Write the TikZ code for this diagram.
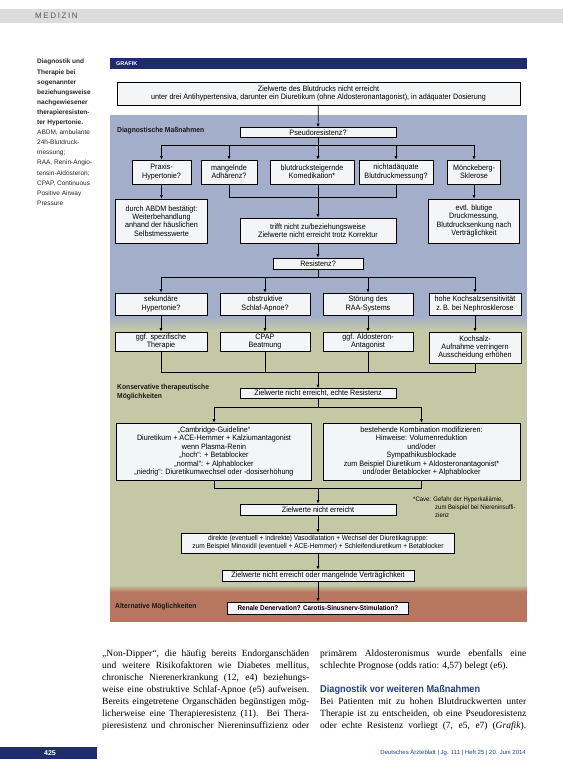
\documentclass[tikz,border=0pt]{standalone}
\usepackage{fontspec}
\setmainfont{Liberation Serif}
\setsansfont{Liberation Sans}
\newfontfamily\cond[FakeStretch=0.92]{Liberation Sans}
\usetikzlibrary{arrows.meta}
\definecolor{diagblue}{HTML}{A3AECB}
\definecolor{khakisec}{HTML}{C5C8A5}
\definecolor{brownsec}{HTML}{B7765F}
\definecolor{navybar}{HTML}{1E2C6B}
\definecolor{boxfill}{HTML}{F3F5F7}
\definecolor{headblue}{HTML}{23408F}
\definecolor{hdrgrey}{HTML}{DCDCDC}
\begin{document}
\begin{tikzpicture}[x=1pt,y=-1pt,
  fbox/.style={draw=black,line width=0.7pt,fill=boxfill,font=\cond\fontsize{7.8}{8.4}\selectfont,align=center,inner sep=0pt,anchor=center},
  conn/.style={line width=0.7pt},
  arr/.style={line width=0.7pt,-{Latex[length=3.5pt,width=3.2pt]}},
  seclabel/.style={font=\cond\bfseries\fontsize{7.3}{8.4}\selectfont,anchor=west,align=left,text=black!90,inner sep=0pt},
  bodytext/.style={anchor=north west,inner sep=0pt,font=\fontsize{9.5}{11.9}\selectfont}
]
\useasboundingbox (0,0) rectangle (563,771);
\fill[white] (0,0) rectangle (563,771);
% running header
\fill[hdrgrey] (0,9) rectangle (563,23);
\node[anchor=west,inner sep=0pt,font=\sffamily\fontsize{8}{8}\selectfont\addfontfeature{LetterSpace=20},text=black!65] (hdr) at (35,16) {MEDIZIN};
% side caption
\node[anchor=north west,inner sep=0pt,align=left,font=\sffamily\fontsize{6.5}{10.1}\selectfont,text=black!85] (cap) at (37,59)
 {\textbf{Diagnostik und}\\\textbf{Therapie bei}\\\textbf{sogenannter}\\\textbf{beziehungsweise}\\\textbf{nachgewiesener}\\\textbf{therapieresisten-}\\\textbf{ter Hypertonie.}\\ABDM, ambulante\\24h-Blutdruck-\\messung;\\RAA, Renin-Angio-\\tensin-Aldosteron;\\CPAP, Continuous\\Positive Airway\\Pressure};
% panel backgrounds
\fill[navybar] (110,58) rectangle (527,69);
\node[anchor=west,inner sep=0pt,text=white,font=\sffamily\bfseries\fontsize{5.5}{5.5}\selectfont] (gr) at (116,63.5) {GRAFIK};
\fill[diagblue] (110,115) rectangle (527,316);
\shade[top color=diagblue,bottom color=khakisec] (110,316) rectangle (527,330);
\fill[khakisec] (110,330) rectangle (527,585);
\shade[top color=khakisec,bottom color=brownsec] (110,585) rectangle (527,592);
\fill[brownsec] (110,592) rectangle (527,622);
% section labels
\node[seclabel] (lab1) at (117,131) {Diagnostische Maßnahmen};
\node[seclabel] (lab2) at (117,392) {Konservative therapeutische\\Möglichkeiten};
\node[seclabel] (lab3) at (115,607) {Alternative Möglichkeiten};
% boxes
\node[fbox,minimum width=403pt,minimum height=23pt] (top) at (318.5,93.5) {Zielwerte des Blutdrucks nicht erreicht\\unter drei Antihypertensiva, darunter ein Diuretikum (ohne Aldosteronantagonist), in adäquater Dosierung};
\node[fbox,minimum width=156pt,minimum height=10pt] (pseudo) at (318,132.5) {Pseudoresistenz?};
\node[fbox,minimum width=59pt,minimum height=24pt] (d1) at (161.5,172) {Praxis-\\Hypertonie?};
\node[fbox,minimum width=56pt,minimum height=24pt] (d2) at (229,172) {mangelnde\\Adhärenz?};
\node[fbox,minimum width=84pt,minimum height=24pt] (d3) at (312,172) {blutdrucksteigernde\\Komedikation*};
\node[fbox,minimum width=74pt,minimum height=24pt] (d4) at (396,172) {nichtadäquate\\Blutdruckmessung?};
\node[fbox,minimum width=53pt,minimum height=24pt] (d5) at (474,172) {Mönckeberg-\\Sklerose};
\node[fbox,minimum width=92pt,minimum height=44pt] (abdm) at (161.5,221) {durch ABDM bestätigt:\\Weiterbehandlung\\anhand der häuslichen\\Selbstmesswerte};
\node[fbox,minimum width=156pt,minimum height=25pt] (trifft) at (318,230.5) {trifft nicht zu/beziehungsweise\\Zielwerte nicht erreicht trotz Korrektur};
\node[fbox,minimum width=91pt,minimum height=44pt] (evtl) at (474,221) {evtl. blutige\\Druckmessung,\\Blutdrucksenkung nach\\Verträglichkeit};
\node[fbox,minimum width=90pt,minimum height=11pt] (resist) at (318,263.5) {Resistenz?};
\node[fbox,minimum width=92pt,minimum height=22pt] (r1) at (161,304) {sekundäre\\Hypertonie?};
\node[fbox,minimum width=90pt,minimum height=22pt] (r2) at (265,304) {obstruktive\\Schlaf-Apnoe?};
\node[fbox,minimum width=90pt,minimum height=22pt] (r3) at (368,304) {Störung des\\RAA-Systems};
\node[fbox,minimum width=92pt,minimum height=22pt] (r4) at (475,304) {hohe Kochsalzsensitivität\\z.\,B. bei Nephrosklerose};
\node[fbox,minimum width=92pt,minimum height=19pt] (t1) at (161,341.5) {ggf. spezifische\\Therapie};
\node[fbox,minimum width=90pt,minimum height=19pt] (t2) at (265,341.5) {CPAP\\Beatmung};
\node[fbox,minimum width=90pt,minimum height=19pt] (t3) at (368,341.5) {ggf. Aldosteron-\\Antagonist};
\node[fbox,minimum width=92pt,minimum height=31pt] (t4) at (475,347.5) {Kochsalz-\\Aufnahme verringern\\Ausscheidung erhöhen};
\node[fbox,minimum width=156pt,minimum height=10pt] (echt) at (318,393.5) {Zielwerte nicht erreicht, echte Resistenz};
\node[fbox,minimum width=195pt,minimum height=57pt] (cam) at (214,451.5) {„Cambridge-Guideline“\\Diuretikum + ACE-Hemmer + Kalziumantagonist\\wenn Plasma-Renin\\„hoch“: + Betablocker\\„normal“: + Alphablocker\\„niedrig“: Diuretikumwechsel oder -dosiserhöhung};
\node[fbox,minimum width=197pt,minimum height=57pt] (best) at (421.5,451.5) {bestehende Kombination modifizieren:\\Hinweise: Volumenreduktion\\und/oder\\Sympathikusblockade\\zum Beispiel Diuretikum + Aldosteronantagonist*\\und/oder Betablocker + Alphablocker};
\node[fbox,minimum width=156pt,minimum height=11pt] (zne) at (318,509.5) {Zielwerte nicht erreicht};
\node[anchor=north west,inner sep=0pt,align=left,font=\cond\fontsize{6.5}{7.6}\selectfont] (fn) at (413,497) {*Cave: Gefahr der Hyperkaliämie,\\\hspace*{22pt}zum Beispiel bei Niereninsuffi-\\\hspace*{22pt}zienz};
\node[fbox,minimum width=273pt,minimum height=20pt,font=\cond\fontsize{7.1}{8.2}\selectfont] (direkte) at (318,543) {direkte (eventuell + indirekte) Vasodilatation + Wechsel der Diuretikagruppe:\\zum Beispiel Minoxidil (eventuell + ACE-Hemmer) + Schleifendiuretikum + Betablocker};
\node[fbox,minimum width=192pt,minimum height=11pt] (znem) at (318,575.5) {Zielwerte nicht erreicht oder mangelnde Verträglichkeit};
\node[fbox,minimum width=181pt,minimum height=12pt,font=\cond\bfseries\fontsize{6.9}{8}\selectfont] (renal) at (318,608) {Renale Denervation? Carotis-Sinusnerv-Stimulation?};
% connectors
\draw[arr] (top) -- (pseudo);
\coordinate (j1) at (318,145);
\draw[conn] (pseudo) -- (j1);
\foreach \n in {d1,d2,d4,d5} \draw[arr] (j1) -| (\n);
\draw[arr] (j1) -- (j1 |- d3.north);
\draw[arr] (d1.south) -- (d1.south |- abdm.north);
\draw[arr] (d5.south) -- (d5.south |- evtl.north);
\coordinate (j2) at (318,197);
\draw[conn] (d2.south) |- (j2);
\draw[conn] (d4.south) |- (j2);
\draw[conn] (d3.south -| j2) -- (j2);
\draw[arr] (j2) -- (trifft);
\draw[arr] (trifft) -- (resist);
\coordinate (j3) at (318,277);
\draw[conn] (resist) -- (j3);
\foreach \n in {r1,r2,r3,r4} \draw[arr] (j3) -| (\n);
\foreach \a/\b in {r1/t1,r2/t2,r3/t3,r4/t4} \draw[arr] (\a) -- (\b);
\coordinate (j4) at (318,372);
\foreach \n in {t1,t2,t3,t4} \draw[conn] (\n) |- (j4);
\draw[arr] (j4) -- (echt);
\coordinate (j5) at (318,407);
\draw[conn] (echt) -- (j5);
\draw[arr] (j5) -| (cam);
\draw[arr] (j5) -| (best);
\coordinate (j6) at (318,488);
\draw[conn] (cam) |- (j6);
\draw[conn] (best) |- (j6);
\draw[arr] (j6) -- (zne);
\draw[arr] (zne) -- (direkte);
\draw[arr] (direkte) -- (znem);
\draw[arr] (znem) -- (renal);
% body text
\node[bodytext] (colA) at (102,650) {\parbox[t]{207pt}{\tolerance=9999\hyphenpenalty=10000\parfillskip=0pt „Non-Dipper“, die häufig bereits Endorganschäden\linebreak und weitere Risikofaktoren wie Diabetes mellitus,\linebreak chronische Nierenerkrankung (12, e4) beziehungs-\linebreak weise eine obstruktive Schlaf-Apnoe (e5) aufweisen.\linebreak Bereits eingetretene Organschäden begünstigen mög-\linebreak licherweise eine Therapieresistenz (11). Bei Thera-\linebreak pieresistenz und chronischer Niereninsuffizienz oder\par}};
\node[bodytext] (colB) at (320,650) {\parbox[t]{206pt}{\tolerance=9999\hyphenpenalty=10000 primärem Aldosteronismus wurde ebenfalls eine\linebreak schlechte Prognose (odds ratio: 4,57) belegt (e6).\par}};
\node[anchor=west,inner sep=0pt,font=\cond\bfseries\fontsize{10}{10}\selectfont,text=headblue] (head) at (320,690) {Diagnostik vor weiteren Maßnahmen};
\node[bodytext] (colC) at (320,698) {\parbox[t]{206pt}{\tolerance=9999\hyphenpenalty=10000\parfillskip=0pt Bei Patienten mit zu hohen Blutdruckwerten unter\linebreak Therapie ist zu entscheiden, ob eine Pseudoresistenz\linebreak oder echte Resistenz vorliegt (7, e5, e7) (\textit{Grafik}).\par}};
% footer
\fill[navybar] (0,747) rectangle (97,759);
\node[inner sep=0pt,text=white,font=\sffamily\bfseries\fontsize{7}{7}\selectfont] (pg) at (50,753) {425};
\node[anchor=east,inner sep=0pt,font=\sffamily\fontsize{6}{6}\selectfont,text=headblue] (ft) at (526,753) {Deutsches Ärzteblatt \textbar{} Jg. 111 \textbar{} Heft 25 \textbar{} 20. Juni 2014};
\end{tikzpicture}
\end{document}
